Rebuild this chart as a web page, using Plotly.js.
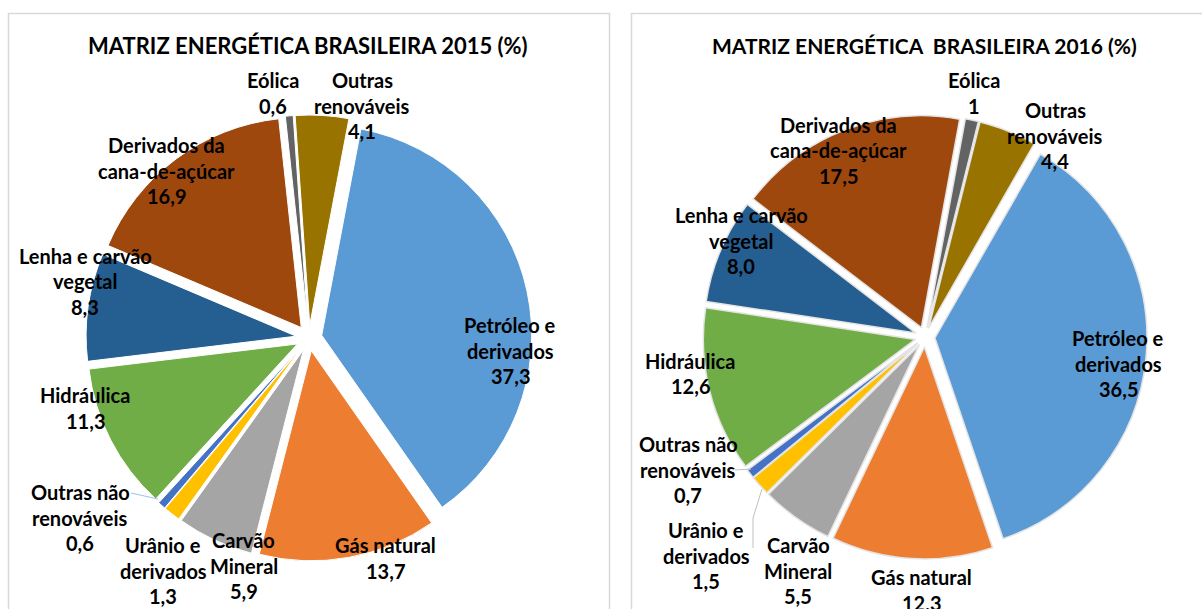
<!DOCTYPE html>
<html>
<head>
<meta charset="utf-8">
<script src="https://cdn.plot.ly/plotly-3.0.1.min.js"></script>
<style>
html,body{margin:0;padding:0;background:#fff;}
#chart{width:1202px;height:609px;}
</style>
</head>
<body>
<div id="chart"></div>
<script>
// ---- data ----
const categories = ['Outras renováveis','Petróleo e derivados','Gás natural','Carvão Mineral','Urânio e derivados','Outras não renováveis','Hidráulica','Lenha e carvão vegetal','Derivados da cana-de-açúcar','Eólica'];
const labelLines = [['Outras','renováveis'],['Petróleo e','derivados'],['Gás natural'],['Carvão','Mineral'],['Urânio e','derivados'],['Outras não','renováveis'],['Hidráulica'],['Lenha e carvão','vegetal'],['Derivados da','cana-de-açúcar'],['Eólica']];
const values2015 = [4.1, 37.3, 13.7, 5.9, 1.3, 0.6, 11.3, 8.3, 16.9, 0.6];
const values2016 = [4.4, 36.5, 12.3, 5.5, 1.5, 0.7, 12.6, 8.0, 17.5, 1];
const valueText2015 = ['4,1','37,3','13,7','5,9','1,3','0,6','11,3','8,3','16,9','0,6'];
const valueText2016 = ['4,4','36,5','12,3','5,5','1,5','0,7','12,6','8,0','17,5','1'];
const colors = ['#997300','#5B9BD5','#ED7D31','#A5A5A5','#FFC000','#4472C4','#70AD47','#255E91','#9E480E','#636363'];
const title2015 = 'MATRIZ ENERGÉTICA BRASILEIRA 2015 (%)';
const title2016 = 'MATRIZ ENERGÉTICA  BRASILEIRA 2016 (%)';

// ---- layout helpers (pixel positions) ----
const W = 1202, H = 609;
const px = x => x / W;
const py = y => 1 - y / H;
const FONT = 'Lato, "Liberation Sans", sans-serif';
const LINE_H = 25.5;

// label anchor (center x, first line center y) per category, per chart
const labelPos2015 = [[362,80],[510,325],[385,545],[244,540],[163,545],[80,492],[85,395],[85,256],[167,145],[273,80]];
const labelPos2016 = [[1055,110],[1118,338],[921,577],[798,545],[706,530],[688,444],[690,361],[741,215],[838,125],[974,80]];

function pieTrace(values, domainPx, pull, rotation, lineColor, lineWidth) {
  return {
    type: 'pie',
    labels: categories,
    values: values,
    sort: false,
    direction: 'clockwise',
    rotation: rotation,
    pull: values.map(() => pull),
    marker: {colors: colors, line: {color: lineColor, width: lineWidth}},
    textinfo: 'none',
    hoverinfo: 'label+value',
    showlegend: false,
    domain: {x: [px(domainPx[0]), px(domainPx[1])], y: [py(domainPx[3]), py(domainPx[2])]}
  };
}

// pie boxes: [left, right, top, bottom] in px
const t2015 = pieTrace(values2015, [86, 532, 115, 561], 0.062, -4, '#ffffff', 1);
const t2016 = pieTrace(values2016, [703, 1147, 115, 559], 0.047, 14, '#e4e4e4', 1.5);

const annotations = [];
function addLabels(valueText, pos) {
  categories.forEach((c, i) => {
    const lines = labelLines[i].concat([valueText[i]]);
    lines.forEach((ln, k) => {
      annotations.push({
        xref: 'paper', yref: 'paper',
        x: px(pos[i][0]), y: py(pos[i][1] + k * LINE_H),
        xanchor: 'center', yanchor: 'middle',
        text: ln, showarrow: false,
        font: {family: FONT, size: 20, color: '#000000', weight: 700}
      });
    });
  });
}
addLabels(valueText2015, labelPos2015);
addLabels(valueText2016, labelPos2016);

[[title2015, 308, 22], [title2016, 924, 21]].forEach(([t, cx, fs]) => {
  annotations.push({
    xref: 'paper', yref: 'paper', x: px(cx), y: py(45),
    xanchor: 'center', yanchor: 'middle', showarrow: false,
    text: t, font: {family: FONT, size: fs, color: '#000000', weight: 700}
  });
});

const shapes = [
  {type: 'rect', xref: 'paper', yref: 'paper', x0: px(8.5), x1: px(609.5), y0: py(640), y1: py(13.5), line: {color: '#D9D9D9', width: 1.5}},
  {type: 'rect', xref: 'paper', yref: 'paper', x0: px(631.5), x1: px(1230), y0: py(640), y1: py(13.5), line: {color: '#D9D9D9', width: 1.5}},
  // leader lines
  {type: 'line', xref: 'paper', yref: 'paper', x0: px(131), y0: py(493), x1: px(158), y1: py(499), line: {color: '#9DC3E6', width: 1}},
  {type: 'line', xref: 'paper', yref: 'paper', x0: px(735), y0: py(470), x1: px(751), y1: py(469), line: {color: '#BFBFBF', width: 1}},
  {type: 'line', xref: 'paper', yref: 'paper', x0: px(753), y0: py(548), x1: px(753), y1: py(518), line: {color: '#BFBFBF', width: 1}},
  {type: 'line', xref: 'paper', yref: 'paper', x0: px(753), y0: py(518), x1: px(762), y1: py(489), line: {color: '#BFBFBF', width: 1}}
];

const layout = {
  width: W, height: H,
  margin: {l: 0, r: 0, t: 0, b: 0},
  paper_bgcolor: '#ffffff',
  plot_bgcolor: '#ffffff',
  showlegend: false,
  annotations: annotations,
  shapes: shapes
};

Plotly.newPlot('chart', [t2015, t2016], layout, {displayModeBar: false, staticPlot: true});
</script>
</body>
</html>
